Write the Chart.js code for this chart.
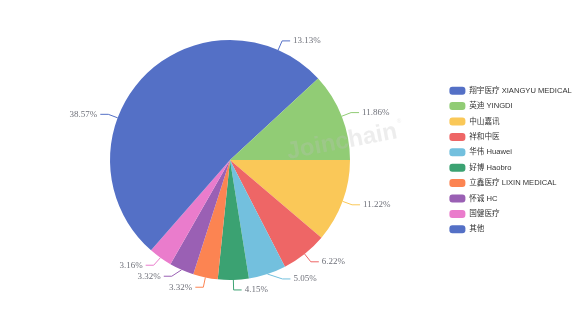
<!DOCTYPE html>
<html>
<head>
<meta charset="utf-8">
<script src="https://cdn.jsdelivr.net/npm/chart.js@4"></script>
<style>
  html, body { margin: 0; padding: 0; background: #fff; }
  #wrap { width: 576px; height: 320px; }
</style>
</head>
<body>
<div id="wrap"><canvas id="Cuota"></canvas></div>
<script>
// datos
const empresas = ['翔宇医疗 XIANGYU MEDICAL', '英迪 YINGDI', '中山嘉讯', '祥和中医', '华伟 Huawei',
    '好博 Haobro', '立鑫医疗 LIXIN MEDICAL', '怀诚 HC', '国健医疗', '其他'];
const cuota = [13.13, 11.86, 11.22, 6.22, 5.05, 4.15, 3.32, 3.32, 3.16, 38.57];
const colores = ['#5470c6', '#91cc75', '#fac858', '#ee6666', '#73c0de',
    '#3ba272', '#fc8452', '#9a60b4', '#ea7ccc', '#5470c6'];

// etiquetas con línea guía (estilo echarts)
const etiquetas = {
    id: 'etiquetas',
    afterDatasetsDraw(chart) {
        const ctx = chart.ctx;
        const arcs = chart.getDatasetMeta(0).data;
        const len1 = 10, len2 = 8, gap = 11;
        const items = arcs.map((a, i) => {
            const mid = (a.startAngle + a.endAngle) / 2;
            const c = Math.cos(mid), s = Math.sin(mid);
            const R = a.outerRadius + len1;
            return {
                i, cx: a.x, cy: a.y, R,
                x0: a.x + c * a.outerRadius, y0: a.y + s * a.outerRadius,
                x1: a.x + c * R, y1: a.y + s * R,
                right: c >= 0
            };
        });
        // evitar que se encimen
        [true, false].forEach(lado => {
            const grupo = items.filter(it => it.right === lado).sort((a, b) => a.y1 - b.y1);
            for (let k = grupo.length - 1; k > 0; k--) {
                const abajo = grupo[k], arriba = grupo[k - 1];
                if (abajo.y1 - arriba.y1 < gap) {
                    arriba.y1 = abajo.y1 - gap;
                    const dy = arriba.y1 - arriba.cy;
                    if (Math.abs(dy) < arriba.R) {
                        const dx = Math.sqrt(arriba.R * arriba.R - dy * dy);
                        arriba.x1 = arriba.cx + (lado ? dx : -dx);
                    }
                }
            }
        });
        ctx.save();
        ctx.font = '9px "Liberation Serif", "Times New Roman", serif';
        ctx.textBaseline = 'middle';
        items.forEach(it => {
            const x2 = it.x1 + (it.right ? len2 : -len2);
            ctx.strokeStyle = colores[it.i];
            ctx.lineWidth = 1;
            ctx.beginPath();
            ctx.moveTo(it.x0, it.y0);
            ctx.lineTo(it.x1, it.y1);
            ctx.lineTo(x2, it.y1);
            ctx.stroke();
            ctx.fillStyle = '#6e7079';
            ctx.textAlign = it.right ? 'left' : 'right';
            ctx.fillText(cuota[it.i].toFixed(2) + '%', x2 + (it.right ? 3 : -3), it.y1);
        });
        ctx.restore();
    }
};

// marca de agua
const marca = {
    id: 'marca',
    afterDraw(chart) {
        const ctx = chart.ctx;
        ctx.save();
        ctx.translate(342, 142);
        ctx.rotate(-0.19);
        ctx.font = 'bold 24px "Liberation Sans", Arial, sans-serif';
        ctx.fillStyle = 'rgba(190, 190, 190, 0.28)';
        ctx.textAlign = 'center';
        ctx.textBaseline = 'middle';
        ctx.fillText('Joinchain', 0, 0);
        ctx.font = '6px "Liberation Sans", Arial, sans-serif';
        ctx.fillText('®', 60, -10);
        ctx.restore();
    }
};

const ctx1 = document.getElementById('Cuota').getContext('2d');
const myChart1 = new Chart(ctx1, {
    type: 'pie',
    data: {
        labels: empresas,
        datasets: [{
            data: cuota,
            backgroundColor: colores,
            borderWidth: 0
        }]
    },
    options: {
        responsive: true,
        maintainAspectRatio: false,
        animation: false,
        layout: {
            padding: { top: 40, bottom: 40, left: 18, right: 0 }
        },
        plugins: {
            tooltip: { enabled: false },
            legend: {
                position: 'right',
                maxWidth: 134,
                labels: {
                    boxWidth: 16,
                    boxHeight: 8,
                    padding: 7.4,
                    useBorderRadius: true,
                    borderRadius: 3,
                    color: '#333',
                    font: { size: 7.6, family: '"Liberation Sans", Arial, "Noto Sans CJK SC", sans-serif' }
                }
            }
        }
    },
    plugins: [etiquetas, marca]
});
</script>
</body>
</html>
